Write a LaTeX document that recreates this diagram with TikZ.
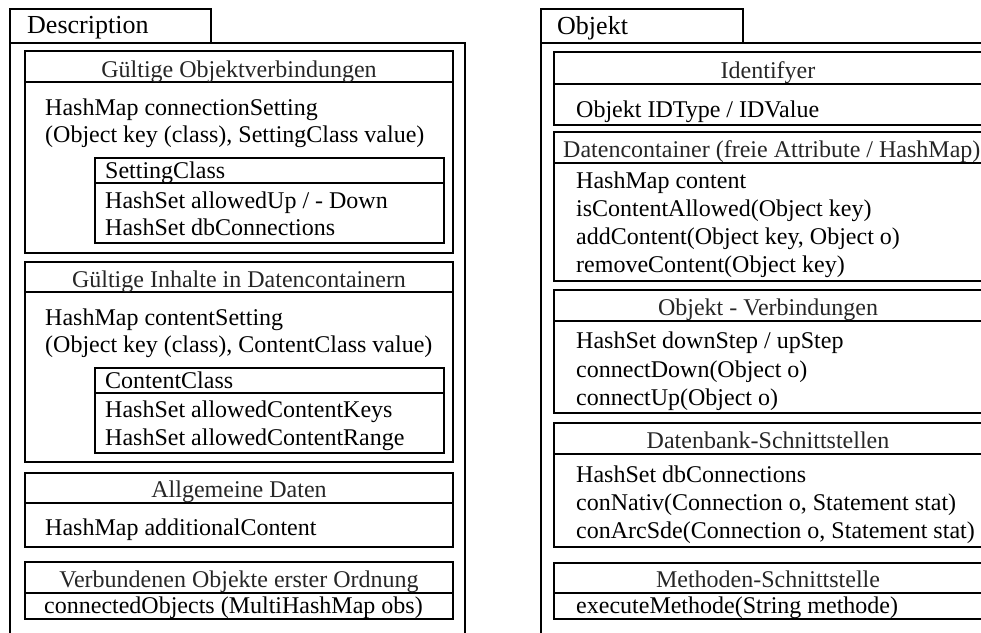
\documentclass[tikz,border=0pt]{standalone}
\usepackage{fontspec}
\setmainfont{Liberation Serif}
\begin{document}
\begin{tikzpicture}[x=1pt, y=-1pt,
   frame/.style={draw, line width=2pt},
   title/.style={anchor=base west, inner sep=0pt, font=\fontsize{26}{30}\selectfont},
   head/.style={anchor=base, inner sep=0pt, text=black!85, font=\fontsize{24}{28}\selectfont},
   body/.style={anchor=base west, inner sep=0pt, font=\fontsize{24}{28}\selectfont}]
   \useasboundingbox (0,0) rectangle (981,632);
   \clip (0,0) rectangle (981,632);
   % Description
   \draw[frame] (10,9) rectangle (211,43);
   \draw[frame] (10,43) rectangle (465,660);
   \node[title] (desc) at (27,33) {Description};
   \draw[frame] (25,51) rectangle (453,253);
   \draw[frame] (25,82) -- (453,82);
   \node[head] (conhead) at (239,77) {Gültige Objektverbindungen};
   \node[body] (conmap) at (45,115) {HashMap connectionSetting};
   \node[body] (conkey) at (45,142) {(Object key (class), SettingClass value)};
   \draw[frame] (95,158) rectangle (444,243);
   \draw[frame] (95,183) -- (444,183);
   \node[body] (setcls) at (105,178) {SettingClass};
   \node[body] (setup) at (105,208) {HashSet allowedUp / - Down};
   \node[body] (setdb) at (105,235) {HashSet dbConnections};
   \draw[frame] (25,262) rectangle (453,462);
   \draw[frame] (25,292) -- (453,292);
   \node[head] (cnthead) at (239,287) {Gültige Inhalte in Datencontainern};
   \node[body] (cntmap) at (45,325) {HashMap contentSetting};
   \node[body] (cntkey) at (45,352) {(Object key (class), ContentClass value)};
   \draw[frame] (95,368) rectangle (444,453);
   \draw[frame] (95,393) -- (444,393);
   \node[body] (cntcls) at (105,388) {ContentClass};
   \node[body] (cntkeys) at (105,417) {HashSet allowedContentKeys};
   \node[body] (cntrange) at (105,445) {HashSet allowedContentRange};
   \draw[frame] (25,473) rectangle (453,547);
   \draw[frame] (25,503) -- (453,503);
   \node[head] (addhead) at (239,497) {Allgemeine Daten};
   \node[body] (addmap) at (45,535) {HashMap additionalContent};
   \draw[frame] (25,562) rectangle (453,619);
   \draw[frame] (25,593) -- (453,593);
   \node[head] (obshead) at (239,587) {Verbundenen Objekte erster Ordnung};
   \node[body] (obsmap) at (44,613) {connectedObjects (MultiHashMap obs)};
   % Objekt
   \draw[frame] (541,9) rectangle (743,43);
   \draw[frame] (541,43) rectangle (996,660);
   \node[title] (obj) at (557,34) {Objekt};
   \draw[frame] (554,52) rectangle (984,125);
   \draw[frame] (554,84) -- (984,84);
   \node[head] (idhead) at (768,78) {Identifyer};
   \node[body] (idval) at (576,117) {Objekt IDType / IDValue};
   \draw[frame] (554,132) rectangle (984,281);
   \draw[frame] (554,163) -- (984,163);
   \node[head, anchor=base west] (dchead) at (563,157) {Datencontainer (freie Attribute / HashMap)};
   \node[body] (dcmap) at (576,188) {HashMap content};
   \node[body] (dcallow) at (576,216) {isContentAllowed(Object key)};
   \node[body] (dcadd) at (576,244) {addContent(Object key, Object o)};
   \node[body] (dcrem) at (576,272) {removeContent(Object key)};
   \draw[frame] (554,290) rectangle (984,413);
   \draw[frame] (554,321) -- (984,321);
   \node[head] (vbhead) at (768,315) {Objekt - Verbindungen};
   \node[body] (vbset) at (576,348) {HashSet downStep / upStep};
   \node[body] (vbdown) at (576,377) {connectDown(Object o)};
   \node[body] (vbup) at (576,405) {connectUp(Object o)};
   \draw[frame] (554,423) rectangle (984,547);
   \draw[frame] (554,454) -- (984,454);
   \node[head] (dbhead) at (768,448) {Datenbank-Schnittstellen};
   \node[body] (dbset) at (576,482) {HashSet dbConnections};
   \node[body] (dbnat) at (576,510) {conNativ(Connection o, Statement stat)};
   \node[body] (dbsde) at (576,538) {conArcSde(Connection o, Statement stat)};
   \draw[frame] (554,563) rectangle (984,619);
   \draw[frame] (554,593) -- (984,593);
   \node[head] (mthead) at (768,587) {Methoden-Schnittstelle};
   \node[body] (mtexec) at (576,613) {executeMethode(String methode)};
\end{tikzpicture}
\end{document}
